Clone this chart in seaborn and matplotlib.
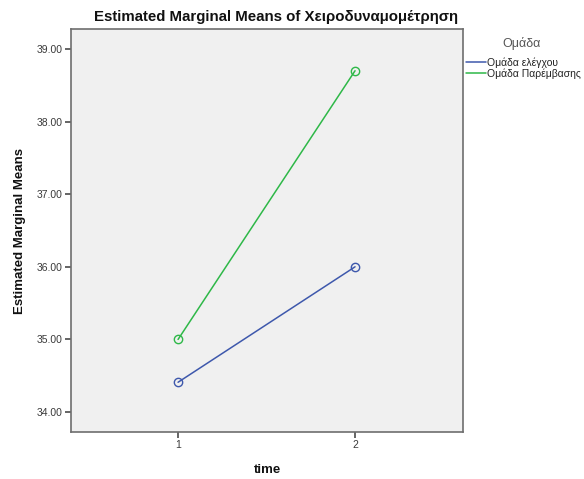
import matplotlib
matplotlib.use("Agg")
import matplotlib.pyplot as plt
from matplotlib.lines import Line2D
import seaborn as sns
import pandas as pd

# Estimated marginal means per group and time point
time_points = [1, 2]
groups = ["Ομάδα ελέγχου", "Ομάδα Παρέμβασης"]
control_means = [34.41, 36.00]
intervention_means = [35.00, 38.70]
y_ticks = [34.0, 35.0, 36.0, 37.0, 38.0, 39.0]

df = pd.DataFrame({
    "time": time_points * 2,
    "mean": control_means + intervention_means,
    "group": [groups[0]] * 2 + [groups[1]] * 2,
})

sns.set_style("white")
plt.rcParams["font.family"] = ["Liberation Sans", "DejaVu Sans"]

palette = {groups[0]: "#3E58AC", groups[1]: "#2EB848"}

fig = plt.figure(figsize=(5.84, 4.79), dpi=100)
ax = fig.add_axes([71 / 584, 1 - 432 / 479, 392 / 584, 403 / 479])
ax.set_facecolor("#F0F0F0")

sns.lineplot(data=df, x="time", y="mean", hue="group", palette=palette,
             marker="o", markersize=6, markerfacecolor="none",
             markeredgewidth=1.0, linewidth=1.1, ax=ax, legend=False)
# open circle markers take the line colour
for line in ax.lines:
    line.set_markeredgecolor(line.get_color())

ax.set_xlim(0.395, 2.61)
ax.set_ylim(33.725, 39.275)
ax.set_xticks(time_points)
ax.set_xticklabels([str(t) for t in time_points])
ax.set_yticks(y_ticks)
ax.set_yticklabels([f"{v:.2f}" for v in y_ticks])

for side in ["left", "right", "top", "bottom"]:
    ax.spines[side].set_color("#6E6E6E")
    ax.spines[side].set_linewidth(1.2)
    ax.spines[side].set_visible(True)

ax.tick_params(axis="both", which="both", direction="out", length=4,
               width=1.2, color="#4A4A4A", labelsize=7.5,
               labelcolor="#3A3A3A", left=True, bottom=True, pad=2)

ax.set_xlabel("time", fontsize=9.5, fontweight="bold", labelpad=10,
              color="#111111")
ax.set_ylabel("Estimated Marginal Means", fontsize=9.5, fontweight="bold",
              labelpad=8, color="#111111")
ax.set_title("Estimated Marginal Means of Χειροδυναμομέτρηση",
             fontsize=10.8, fontweight="bold", pad=6, color="#111111",
             x=(276 - 71) / 392)

# legend title drawn separately so it can sit apart from the entries
fig.text(522 / 584, 1 - 44 / 479, "Ομάδα", ha="center", va="center",
         fontsize=9, color="#555555")
handles = [Line2D([0], [0], color=palette[g], linewidth=1.1) for g in groups]
leg = fig.legend(handles, groups, loc="upper left",
                 bbox_to_anchor=(465 / 584, 1 - 56 / 479), frameon=False,
                 fontsize=7.5, handlelength=1.9, handletextpad=0.1,
                 labelspacing=0.1, borderaxespad=0, borderpad=0.1)
for t in leg.get_texts():
    t.set_color("#222222")

fig.savefig("out.png", dpi=100)
